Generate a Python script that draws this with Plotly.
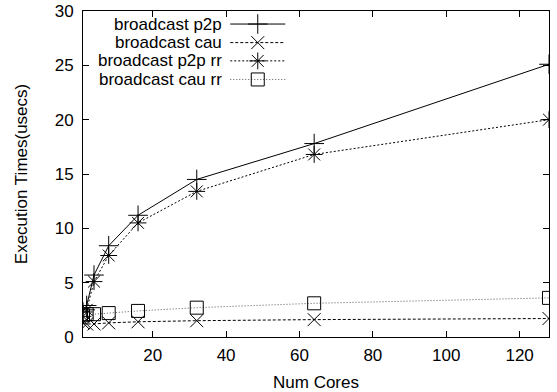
import plotly.graph_objects as go

cores = [1, 2, 4, 8, 16, 32, 64, 128]
p2p = [2.3, 2.9, 5.7, 8.4, 11.2, 14.5, 17.8, 25.1]
cau = [1.3, 1.2, 1.2, 1.3, 1.4, 1.5, 1.6, 1.7]
p2p_rr = [1.9, 2.5, 5.1, 7.5, 10.5, 13.4, 16.8, 20.0]
cau_rr = [2.0, 2.1, 2.1, 2.2, 2.4, 2.7, 3.1, 3.6]

names = ["broadcast p2p", "broadcast cau", "broadcast p2p rr", "broadcast cau rr"]
series = [p2p, cau, p2p_rr, cau_rr]
symbols = ["cross-thin", "x-thin", "asterisk", "square-open"]
msizes = [14, 13, 14, 13]
dashes = ["solid", "3px,2px", "2px,2px", "1px,2px"]
lcolors = ["black", "black", "black", "#555555"]

x_ticks = [20, 40, 60, 80, 100, 120]
y_ticks = [0, 5, 10, 15, 20, 25, 30]

FONT = "Liberation Sans, Arial, sans-serif"
FS = 17

fig = go.Figure()
for name, ys, sym, ms, dash, lc in zip(names, series, symbols, msizes, dashes, lcolors):
    fig.add_trace(go.Scatter(
        x=cores, y=ys, mode="lines+markers", name=name, showlegend=False,
        line=dict(color=lc, width=1, dash=dash),
        marker=dict(symbol=sym, size=ms, color="black",
                    line=dict(color="black", width=1)),
    ))

# manual gnuplot-style legend (text right-aligned, sample to the right)
leg_y = [0.960, 0.903, 0.847, 0.790]
for name, sym, ms, dash, lc, yy in zip(names, symbols, msizes, dashes, lcolors, leg_y):
    fig.add_trace(go.Scatter(
        x=[0.316, 0.434], y=[yy, yy], xaxis="x2", yaxis="y2", mode="lines",
        line=dict(color=lc, width=1, dash=dash), showlegend=False, hoverinfo="skip"))
    fig.add_trace(go.Scatter(
        x=[0.375], y=[yy], xaxis="x2", yaxis="y2", mode="markers",
        marker=dict(symbol=sym, size=ms, color="black", line=dict(color="black", width=1)),
        showlegend=False, hoverinfo="skip"))
    fig.add_annotation(x=0.303, y=yy, xref="paper", yref="paper", text=name,
                       showarrow=False, xanchor="right", yanchor="middle",
                       font=dict(family=FONT, size=17, color="black"))

axis_common = dict(showgrid=False, zeroline=False, showline=True, linecolor="black",
                   linewidth=1, mirror="ticks", ticks="inside", ticklen=6,
                   tickcolor="black", automargin=False,
                   tickfont=dict(family=FONT, size=FS, color="black"))

fig.update_layout(
    width=557, height=392,
    margin=dict(l=83, r=8, t=11, b=55),
    paper_bgcolor="white", plot_bgcolor="white",
    xaxis=dict(range=[1, 128], tickvals=x_ticks, ticklabelstandoff=3,
               title=dict(text="Num Cores", font=dict(family=FONT, size=FS, color="black"), standoff=16),
               **axis_common),
    yaxis=dict(range=[0, 30], tickvals=y_ticks, ticklabelstandoff=5,
               title=dict(text="Execution Times(usecs)", font=dict(family=FONT, size=FS, color="black"), standoff=22),
               **axis_common),
    xaxis2=dict(range=[0, 1], overlaying="x", visible=False, domain=[0, 1]),
    yaxis2=dict(range=[0, 1], overlaying="y", visible=False),
)

fig.write_html("out.html")
